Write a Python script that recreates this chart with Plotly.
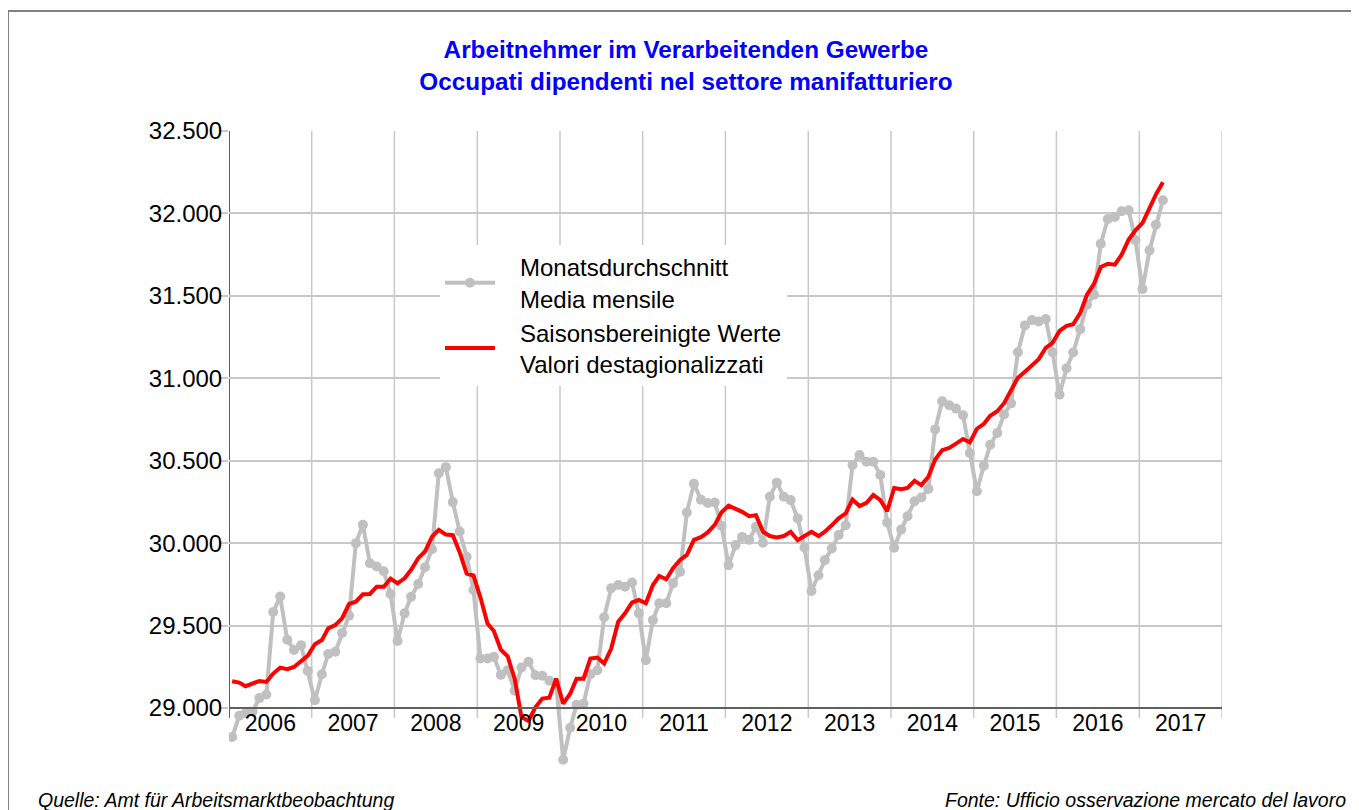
import plotly.graph_objects as go

# ---------------- data ----------------
first_year = 2006
year_ticks = list(range(2006, 2019))   # year boundaries that carry a vertical grid line

avg_2006 = [28824, 28953, 28968, 28978, 29060, 29082, 29582, 29676, 29414, 29352, 29380, 29225]
avg_2007 = [29047, 29205, 29328, 29341, 29455, 29560, 30000, 30111, 29878, 29858, 29829, 29692]
avg_2008 = [29407, 29574, 29675, 29752, 29854, 29963, 30424, 30461, 30249, 30071, 29917, 29716]
avg_2009 = [29300, 29300, 29310, 29201, 29229, 29105, 29246, 29280, 29199, 29196, 29165, 29150]
avg_2010 = [28686, 28880, 29019, 29026, 29205, 29229, 29550, 29726, 29746, 29736, 29761, 29574]
avg_2011 = [29290, 29533, 29635, 29635, 29756, 29827, 30186, 30361, 30263, 30243, 30247, 30105]
avg_2012 = [29866, 29988, 30038, 30020, 30099, 30002, 30281, 30367, 30281, 30261, 30150, 29974]
avg_2013 = [29710, 29805, 29897, 29968, 30049, 30109, 30474, 30535, 30494, 30494, 30413, 30125]
avg_2014 = [29972, 30082, 30163, 30254, 30277, 30329, 30690, 30861, 30836, 30816, 30776, 30547]
avg_2015 = [30315, 30470, 30597, 30668, 30780, 30848, 31158, 31320, 31353, 31344, 31360, 31158]
avg_2016 = [30901, 31061, 31156, 31298, 31446, 31507, 31816, 31966, 31979, 32013, 32019, 31837]
avg_2017 = [31541, 31776, 31932, 32080]

sa_2006 = [29162, 29154, 29132, 29148, 29164, 29158, 29209, 29245, 29235, 29249, 29286, 29318]
sa_2007 = [29387, 29412, 29483, 29503, 29544, 29631, 29645, 29690, 29692, 29736, 29736, 29785]
sa_2008 = [29756, 29787, 29838, 29909, 29949, 30040, 30081, 30052, 30048, 29945, 29815, 29804]
sa_2009 = [29670, 29513, 29467, 29353, 29314, 29176, 28945, 28921, 29006, 29057, 29063, 29178]
sa_2010 = [29026, 29087, 29178, 29178, 29300, 29306, 29270, 29361, 29523, 29574, 29641, 29655]
sa_2011 = [29635, 29746, 29801, 29781, 29848, 29898, 29929, 30020, 30036, 30065, 30111, 30187]
sa_2012 = [30227, 30211, 30190, 30164, 30170, 30069, 30043, 30034, 30043, 30069, 30018, 30043]
sa_2013 = [30069, 30043, 30069, 30109, 30150, 30180, 30265, 30225, 30245, 30292, 30261, 30194]
sa_2014 = [30335, 30327, 30335, 30378, 30352, 30403, 30507, 30564, 30578, 30604, 30632, 30611]
sa_2015 = [30694, 30724, 30772, 30800, 30849, 30927, 31003, 31040, 31079, 31116, 31185, 31215]
sa_2016 = [31287, 31318, 31328, 31395, 31507, 31573, 31675, 31695, 31689, 31750, 31841, 31898]
sa_2017 = [31942, 32033, 32114, 32189]

monthly_avg = (avg_2006 + avg_2007 + avg_2008 + avg_2009 + avg_2010 + avg_2011 +
               avg_2012 + avg_2013 + avg_2014 + avg_2015 + avg_2016 + avg_2017)
seasonal_adj = (sa_2006 + sa_2007 + sa_2008 + sa_2009 + sa_2010 + sa_2011 +
                sa_2012 + sa_2013 + sa_2014 + sa_2015 + sa_2016 + sa_2017)

months = [f"{first_year + i // 12}-{i % 12 + 1:02d}-15" for i in range(len(monthly_avg))]

PAD = "\u00a0\u00a0\u00a0"
name_avg = f"{PAD}Monatsdurchschnitt<br>{PAD}Media mensile"
name_sa = f"{PAD}Saisonsbereinigte Werte<br>{PAD}Valori destagionalizzati"
title_de = "Arbeitnehmer im Verarbeitenden Gewerbe"
title_it = "Occupati dipendenti nel settore manifatturiero"
source_de = "Quelle: Amt für Arbeitsmarktbeobachtung"
source_it = "Fonte: Ufficio osservazione mercato del lavoro"

# ---------------- layout geometry (figure pixels; page adds an 8px body margin) ----------------
OFF = 8
W, H = 1359 - OFF, 810 - OFF
plot_left, plot_right = 229 - OFF, 1222 - OFF
plot_top, plot_bottom = 131 - OFF, 770 - OFF
axis_y_px = 708 - OFF          # pixel row of the 29.000 line
y_lo, y_hi = 29000, 32500
px_per_unit = (axis_y_px - plot_top) / (y_hi - y_lo)
data_lo = y_hi - (plot_bottom - plot_top) / px_per_unit
axis_pos = (y_lo - data_lo) / (y_hi - data_lo)
tick_ext = 10 / px_per_unit    # grid lines reach 10px below the x axis (tick marks)
pw = plot_right - plot_left
ph = plot_bottom - plot_top


def px_x(px):
    """screen x (reference pixels) -> paper fraction"""
    return (px - OFF - plot_left) / pw


def px_y(py):
    """screen y (reference pixels) -> paper fraction"""
    return (plot_bottom - (py - OFF)) / ph


FONT = "Liberation Sans, Arial, sans-serif"
GRID = "#c8c8c8"
AXIS = "#606060"
x_range = [f"{year_ticks[0]}-01-01", f"{year_ticks[-1]}-01-01"]

fig = go.Figure()
fig.add_trace(go.Scatter(
    x=months, y=monthly_avg, name=name_avg, mode="lines+markers",
    line=dict(color="#c0c0c0", width=4),
    marker=dict(color="#c0c0c0", size=10),
))
fig.add_trace(go.Scatter(
    x=months, y=seasonal_adj, name=name_sa, mode="lines",
    line=dict(color="#ff0000", width=4),
))

fig.update_layout(
    width=W, height=H,
    margin=dict(l=plot_left, r=W - plot_right, t=plot_top, b=H - plot_bottom),
    paper_bgcolor="white", plot_bgcolor="white",
    separators=",.",
    font=dict(family=FONT, color="black", size=22),
    title=dict(
        text=f"<b>{title_de}</b><br><b>{title_it}</b>",
        x=(686 - OFF) / W, xanchor="center", xref="container",
        y=1 - (58 - OFF) / H, yanchor="top", yref="container",
        font=dict(family=FONT, size=24.3, color="#0000ff"),
    ),
    xaxis=dict(
        type="date", range=x_range,
        anchor="free", position=axis_pos,
        dtick="M12", tick0=x_range[0], ticklabelmode="period", tickformat="%Y",
        showgrid=False, ticks="",
        ticklabelstandoff=-6,
        showline=True, linecolor=AXIS, linewidth=2,
        tickfont=dict(size=23, color="black"), zeroline=False,
    ),
    yaxis=dict(
        range=[data_lo, y_hi],
        dtick=500, tick0=y_lo, tickformat=",.0f",
        showgrid=True, gridcolor=GRID, gridwidth=1.5,
        ticks="outside", ticklen=8, tickcolor=GRID, tickwidth=1.5,
        ticklabelstandoff=-7,
        showline=False,
        tickfont=dict(size=24, color="black"), zeroline=False,
    ),
    legend=dict(
        x=px_x(440), y=px_y(245), xanchor="left", yanchor="top",
        bgcolor="white", borderwidth=0,
        font=dict(family=FONT, size=24, color="black"),
        itemwidth=50, tracegroupgap=4,
    ),
    showlegend=True,
)

# vertical year grid lines (with their tick stubs below the axis)
for i, yr in enumerate(year_ticks):
    fig.add_shape(
        type="line", xref="x", yref="y",
        x0=f"{yr}-01-01", x1=f"{yr}-01-01", y0=y_lo - tick_ext, y1=y_hi,
        line=dict(color=AXIS if i == 0 else GRID, width=2 if i == 0 else 1.5),
        layer="below",
    )

fig.add_annotation(
    text=f"<i>{source_de}</i>", xref="paper", yref="paper",
    x=px_x(36), y=px_y(800), xanchor="left", yanchor="middle",
    showarrow=False, font=dict(family=FONT, size=19.5, color="black"),
)
fig.add_annotation(
    text=f"<i>{source_it}</i>", xref="paper", yref="paper",
    x=px_x(1348), y=px_y(800), xanchor="right", yanchor="middle",
    showarrow=False, font=dict(family=FONT, size=19.5, color="black"),
)
fig.add_shape(
    type="rect", xref="paper", yref="paper",
    x0=px_x(8), x1=px_x(1356), y0=px_y(830), y1=px_y(11),
    line=dict(color="#808080", width=2), fillcolor="rgba(0,0,0,0)", layer="below",
)

fig.write_html("out.html")
